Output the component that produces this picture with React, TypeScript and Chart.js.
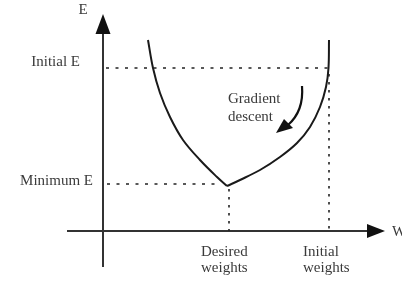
import React, { useEffect, useRef } from "react";
import { Chart, registerables } from "chart.js";

Chart.register(...registerables);

// Error curve E(w): left branch (falling) and right branch (rising), sharing the minimum
const leftBranchW = [4.5, 5.0, 5.7, 6.7, 8.0, 9.7, 11.4, 12.4];
const leftBranchE = [19.1, 16.3, 13.8, 11.4, 9.1, 7.1, 5.4, 4.5];
const rightBranchW = [12.4, 13.7, 15.7, 17.7, 19.4, 20.7, 21.7, 22.3, 22.55, 22.6];
const rightBranchE = [4.5, 5.1, 6.1, 7.4, 8.8, 10.4, 12.4, 14.4, 16.3, 19.1];

// Reference levels
const initialW = 22.6;
const initialE = 16.3;
const desiredW = 12.6;
const minimumE = 4.7;

// Text labels
const yAxisTitle = "E";
const xAxisTitle = "W";
const initialELabel = "Initial E";
const minimumELabel = "Minimum E";
const desiredLabel = ["Desired", "weights"];
const initialLabel = ["Initial", "weights"];
const gradientLabel = ["Gradient", "descent"];

const FONT = '15px "Liberation Serif", "Times New Roman", serif';
const INK = "#1a1a1a";
const TEXT = "#3a3a3a";

const diagramPlugin = {
  id: "diagram",
  beforeDatasetsDraw(chart: any) {
    const ctx = chart.ctx;
    const xs = chart.scales.x;
    const ys = chart.scales.y;
    const px = (w: number) => xs.getPixelForValue(w);
    const py = (e: number) => ys.getPixelForValue(e);
    const ox = px(0);
    const oy = py(0);

    ctx.save();
    // axes
    ctx.strokeStyle = "#333";
    ctx.fillStyle = "#111";
    ctx.lineWidth = 2;
    ctx.beginPath();
    ctx.moveTo(ox, py(-3.6));
    ctx.lineTo(ox, py(20));
    ctx.moveTo(px(-3.6), oy);
    ctx.lineTo(px(26.6), oy);
    ctx.stroke();
    // arrow heads
    ctx.beginPath();
    ctx.moveTo(ox, py(21.7));
    ctx.lineTo(ox - 7.5, py(19.7));
    ctx.lineTo(ox + 7.5, py(19.7));
    ctx.closePath();
    ctx.fill();
    ctx.beginPath();
    ctx.moveTo(px(28.2), oy);
    ctx.lineTo(px(26.4), oy - 7);
    ctx.lineTo(px(26.4), oy + 7);
    ctx.closePath();
    ctx.fill();

    // dotted guides
    ctx.strokeStyle = "#222";
    ctx.lineWidth = 1.6;
    ctx.setLineDash([3, 6.5]);
    ctx.beginPath();
    ctx.moveTo(px(0.3), py(initialE));
    ctx.lineTo(px(initialW), py(initialE));
    ctx.moveTo(px(0.4), py(minimumE));
    ctx.lineTo(px(11.6), py(minimumE));
    ctx.stroke();
    ctx.setLineDash([2.5, 5.5]);
    ctx.beginPath();
    ctx.moveTo(px(desiredW), py(minimumE - 0.5));
    ctx.lineTo(px(desiredW), oy);
    ctx.moveTo(px(initialW), py(initialE - 0.6));
    ctx.lineTo(px(initialW), oy);
    ctx.stroke();
    ctx.setLineDash([]);

    // texts
    ctx.font = FONT;
    ctx.fillStyle = TEXT;
    ctx.textBaseline = "middle";
    ctx.textAlign = "center";
    ctx.fillText(yAxisTitle, ox - 20, 10);
    ctx.textAlign = "left";
    ctx.fillText(xAxisTitle, px(28.9), oy + 1);
    ctx.textAlign = "right";
    ctx.fillText(initialELabel, ox - 23, py(initialE) - 6);
    ctx.fillText(minimumELabel, ox - 10, py(minimumE) - 3);
    ctx.textAlign = "left";
    ctx.fillText(desiredLabel[0], px(desiredW) - 28, oy + 21);
    ctx.fillText(desiredLabel[1], px(desiredW) - 28, oy + 37);
    ctx.fillText(initialLabel[0], px(initialW) - 26, oy + 21);
    ctx.fillText(initialLabel[1], px(initialW) - 26, oy + 37);

    // gradient descent annotation
    const gx = px(12.5);
    const gy = py(13.2);
    ctx.fillText(gradientLabel[0], gx, gy);
    ctx.fillText(gradientLabel[1], gx, gy + 18);
    ctx.strokeStyle = "#111";
    ctx.lineWidth = 2.2;
    ctx.beginPath();
    ctx.moveTo(gx + 74, gy - 13);
    ctx.quadraticCurveTo(gx + 76, gy + 12, gx + 60, gy + 26);
    ctx.stroke();
    ctx.fillStyle = "#111";
    ctx.beginPath();
    ctx.moveTo(gx + 48, gy + 34);
    ctx.lineTo(gx + 56, gy + 20);
    ctx.lineTo(gx + 65, gy + 29);
    ctx.closePath();
    ctx.fill();
    ctx.restore();
  },
};

export default function App() {
  const ref = useRef<HTMLCanvasElement | null>(null);
  useEffect(() => {
    if (!ref.current) return;
    const toPts = (w: number[], e: number[]) => w.map((v, i) => ({ x: v, y: e[i] }));
    const chart = new Chart(ref.current, {
      type: "line",
      data: {
        datasets: [
          {
            data: toPts(leftBranchW, leftBranchE),
            borderColor: INK,
            borderWidth: 2,
            pointRadius: 0,
            tension: 0.35,
            fill: false,
          },
          {
            data: toPts(rightBranchW, rightBranchE),
            borderColor: INK,
            borderWidth: 2,
            pointRadius: 0,
            tension: 0.35,
            fill: false,
          },
        ],
      },
      options: {
        animation: false,
        responsive: false,
        layout: { padding: 0 },
        plugins: { legend: { display: false }, tooltip: { enabled: false } },
        scales: {
          x: { type: "linear", display: false, min: -10.3, max: 29.9 },
          y: { type: "linear", display: false, min: -5.4, max: 23.1 },
        },
      },
      plugins: [diagramPlugin],
    });
    return () => chart.destroy();
  }, []);
  return (
    <div style={{ position: "absolute", left: 0, top: 0, width: 402, height: 285, background: "#fff" }}>
      <canvas ref={ref} width={402} height={285} style={{ display: "block" }} />
    </div>
  );
}
